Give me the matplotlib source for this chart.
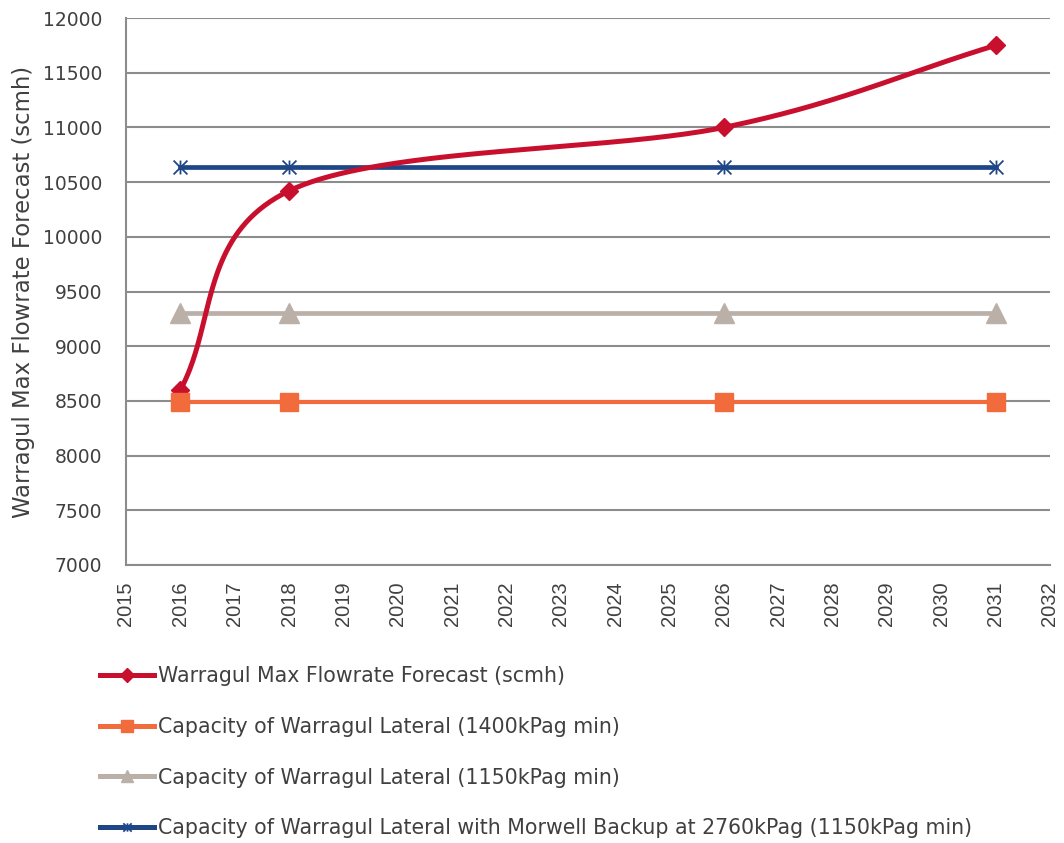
import numpy as np
import matplotlib
matplotlib.use("Agg")
import matplotlib.pyplot as plt
from matplotlib.path import Path
from matplotlib.lines import Line2D

# Forecast flow and lateral capacities (scmh)
years = [2016, 2018, 2026, 2031]
forecast = [8600, 10420, 11000, 11750]
cap_1400 = [8490, 8490, 8490, 8490]
cap_1150 = [9300, 9300, 9300, 9300]
cap_backup = [10640, 10640, 10640, 10640]

labels = [
    "Warragul Max Flowrate Forecast (scmh)",
    "Capacity of Warragul Lateral (1400kPag min)",
    "Capacity of Warragul Lateral (1150kPag min)",
    "Capacity of Warragul Lateral with Morwell Backup at 2760kPag (1150kPag min)",
]

RED = "#C8102E"
ORANGE = "#F26B3C"
TAUPE = "#BBB0A8"
NAVY = "#1F4788"
GRID = "#8C8C8C"
TEXT = "#404040"

# asterisk marker: vertical stroke plus an X
star = Path(
    [(0, -1), (0, 1), (-1, -1), (1, 1), (-1, 1), (1, -1)],
    [Path.MOVETO, Path.LINETO, Path.MOVETO, Path.LINETO, Path.MOVETO, Path.LINETO],
)


def smooth_curve(xs, ys, n=80):
    """Piecewise cubic Bezier through the points (spreadsheet-style smoothing)."""
    p = np.column_stack([xs, ys]).astype(float)
    m = len(p)
    out = []
    for i in range(m - 1):
        p0, p1 = p[i], p[i + 1]
        if i == 0:
            c1 = p0 + (p1 - p0) / 3.0
        else:
            c1 = p0 + (p[i + 1] - p[i - 1]) / 6.0
        if i == m - 2:
            c2 = p1 - (p1 - p0) / 3.0
        else:
            c2 = p1 - (p[i + 2] - p[i]) / 6.0
        t = np.linspace(0, 1, n)[:, None]
        seg = ((1 - t) ** 3) * p0 + 3 * ((1 - t) ** 2) * t * c1 + 3 * (1 - t) * t ** 2 * c2 + t ** 3 * p1
        out.append(seg if i == 0 else seg[1:])
    pts = np.vstack(out)
    return pts[:, 0], pts[:, 1]


fig = plt.figure(figsize=(10.64, 8.43), dpi=100)
ax = fig.add_axes([0.1184, 0.3298, 0.8684, 0.6488])

sx, sy = smooth_curve(years, forecast)
ax.plot(sx, sy, color=RED, lw=3.6, solid_capstyle="round", zorder=4)
ax.plot(years, forecast, ls="none", marker="D", ms=9.5, color=RED, zorder=4)

ax.plot(years, cap_1400, color=ORANGE, lw=3.0, marker="s", ms=13.5, zorder=5)
ax.plot(years, cap_1150, color=TAUPE, lw=3.4, marker="^", ms=14, zorder=3)
ax.plot(years, cap_backup, color=NAVY, lw=3.4, marker=star, ms=10,
        markeredgewidth=1.3, markerfacecolor="none", markeredgecolor=NAVY, zorder=3)

ax.set_xlim(2015, 2032)
ax.set_ylim(7000, 12000)
ax.set_xticks(range(2015, 2033))
ax.set_yticks(range(7000, 12001, 500))
ax.set_xticklabels([str(y) for y in range(2015, 2033)], rotation=90,
                   fontfamily="Liberation Sans", fontsize=14.5, color=TEXT)
ax.set_yticklabels([str(v) for v in range(7000, 12001, 500)],
                   fontfamily="DejaVu Sans", fontsize=13.5, color=TEXT)
ax.tick_params(axis="both", length=0)
ax.tick_params(axis="y", pad=17)
ax.tick_params(axis="x", pad=12)

ax.yaxis.grid(True, color=GRID, lw=1.5)
ax.set_axisbelow(True)
for side in ("top", "right"):
    ax.spines[side].set_visible(False)
for side in ("left", "bottom"):
    ax.spines[side].set_color(GRID)
    ax.spines[side].set_linewidth(1.5)

ax.set_ylabel("Warragul Max Flowrate Forecast (scmh)", fontsize=16.4,
              fontfamily="DejaVu Sans", color=TEXT, labelpad=6)

handles = [
    Line2D([], [], color=RED, lw=3.6, marker="D", ms=7),
    Line2D([], [], color=ORANGE, lw=3.6, marker="s", ms=9),
    Line2D([], [], color=TAUPE, lw=3.6, marker="^", ms=9),
    Line2D([], [], color=NAVY, lw=3.6, marker=star, ms=6, markeredgewidth=1.3,
           markerfacecolor="none"),
]
leg = fig.legend(handles, labels, loc="upper left", bbox_to_anchor=(100 / 1064, 1 - 666 / 843),
                 frameon=False, handlelength=2.65, handletextpad=0.15,
                 labelspacing=1.5, borderpad=0, borderaxespad=0,
                 prop={"family": "DejaVu Sans", "size": 14.8})
for t in leg.get_texts():
    t.set_color(TEXT)

fig.savefig("out.png", dpi=100, facecolor="white")
